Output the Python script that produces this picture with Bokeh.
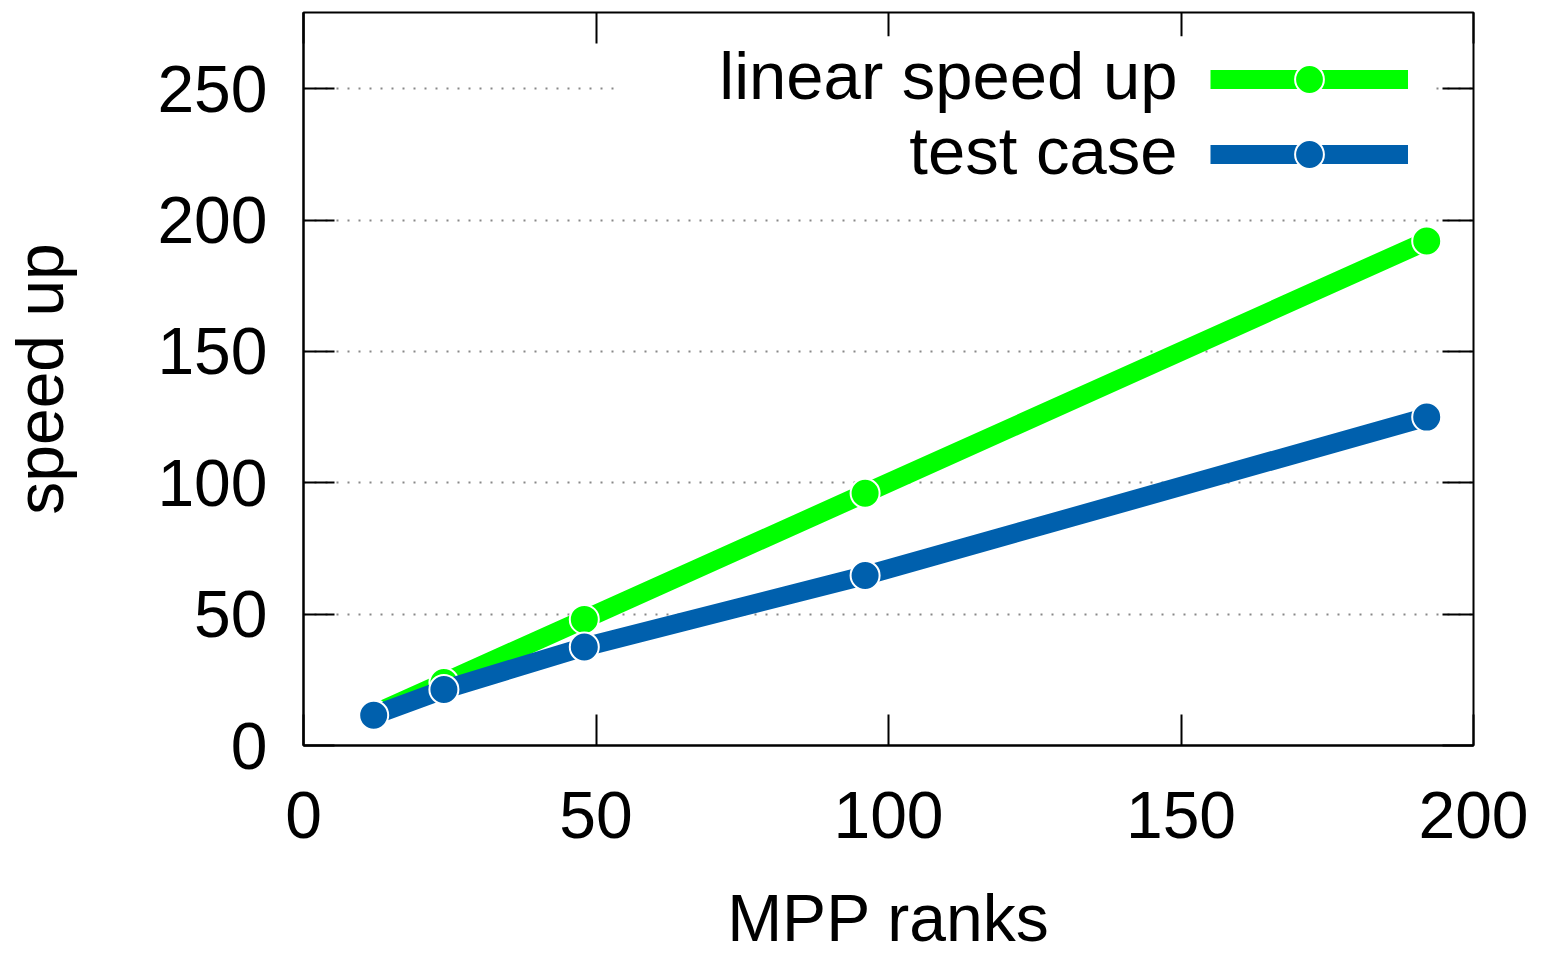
from bokeh.plotting import figure
from bokeh.models import (Range1d, LinearAxis, FixedTicker, Legend, LegendItem,
                          BoxAnnotation, Label)
from bokeh.embed import file_html
from bokeh.resources import INLINE

# ---- data ----
ranks = [12, 24, 48, 96, 192]
linear_speedup = [12, 24, 48, 96, 192]
test_case = [11.5, 21.3, 37.5, 64.7, 125.0]
series_names = ["linear speed up", "test case"]
x_title = "MPP ranks"
y_title = "speed up"
x_ticks = [0, 50, 100, 150, 200]
y_ticks = [0, 50, 100, 150, 200, 250]

GREEN = "#00ff00"
BLUE = "#0060ad"
FONT = "Liberation Sans"
FS = "66px"

p = figure(width=1544, height=958, output_backend="svg", toolbar_location=None,
           x_range=Range1d(0, 200), y_range=Range1d(0, 279),
           min_border_left=303, min_border_right=71, min_border_top=12,
           min_border_bottom=213, x_axis_label=x_title, y_axis_label=y_title)
p.background_fill_color = "white"
p.border_fill_color = "white"
p.outline_line_color = "black"
p.outline_line_width = 2

def style_axis(ax, ticks, show_labels=True):
    ax.ticker = FixedTicker(ticks=ticks)
    ax.major_tick_in = 31
    ax.major_tick_out = 0
    ax.major_tick_line_color = "black"
    ax.major_tick_line_width = 2
    ax.minor_tick_line_color = None
    ax.axis_line_color = "black"
    ax.axis_line_width = 2
    ax.major_label_text_font = FONT
    ax.major_label_text_color = "black"
    if show_labels:
        ax.major_label_text_font_size = FS
    else:
        ax.major_label_text_font_size = "0px"
        ax.major_label_text_alpha = 0
        ax.major_label_standoff = 0
        ax.axis_line_color = None
    ax.axis_label_text_font = FONT
    ax.axis_label_text_font_size = FS
    ax.axis_label_text_font_style = "normal"
    ax.axis_label_text_color = "black"

style_axis(p.xaxis[0], x_ticks)
style_axis(p.yaxis[0], y_ticks)
p.xaxis[0].major_label_standoff = 46
p.xaxis[0].axis_label_standoff = 40
p.yaxis[0].major_label_standoff = 36
p.yaxis[0].axis_label_standoff = 77

top_ax = LinearAxis()
style_axis(top_ax, x_ticks, show_labels=False)
p.add_layout(top_ax, "above")
right_ax = LinearAxis()
style_axis(right_ax, y_ticks, show_labels=False)
p.add_layout(right_ax, "right")

p.xgrid.grid_line_color = None
p.ygrid.ticker = FixedTicker(ticks=y_ticks)
p.ygrid.grid_line_color = "#888888"
p.ygrid.grid_line_width = 2
p.ygrid.grid_line_dash = "2 9"

# ---- data glyphs ----
r_lin_line = p.line(ranks, linear_speedup, line_color=GREEN, line_width=19, line_join="round")
r_lin_pts = p.scatter(ranks, linear_speedup, marker="circle", size=29, fill_color=GREEN,
                      line_color="white", line_width=2)
r_tc_line = p.line(ranks, test_case, line_color=BLUE, line_width=19, line_join="round")
r_tc_pts = p.scatter(ranks, test_case, marker="circle", size=29, fill_color=BLUE,
                     line_color="white", line_width=2)

# ---- key (gnuplot style: text left of sample) ----
key_bg = BoxAnnotation(left=53.3, right=193.5, bottom=210, top=270,
                       fill_color="white", fill_alpha=1, line_color=None)
p.add_layout(key_bg)

legend = Legend(items=[LegendItem(label=" ", renderers=[r_lin_line, r_lin_pts]),
                       LegendItem(label=" ", renderers=[r_tc_line, r_tc_pts])],
                location="top_right", orientation="vertical",
                glyph_width=198, glyph_height=72, spacing=3,
                label_standoff=0, label_width=34, label_height=1,
                label_text_font_size="1px", margin=31, padding=0,
                background_fill_alpha=0, border_line_color=None)
p.add_layout(legend)

for name, yv in zip(series_names, [255.0, 226.4]):
    p.add_layout(Label(x=149.4, y=yv, text=name, text_align="right",
                       text_baseline="middle", text_font=FONT, text_font_size="67px",
                       text_color="black"))

open("out.html", "w").write(file_html(p, INLINE))
